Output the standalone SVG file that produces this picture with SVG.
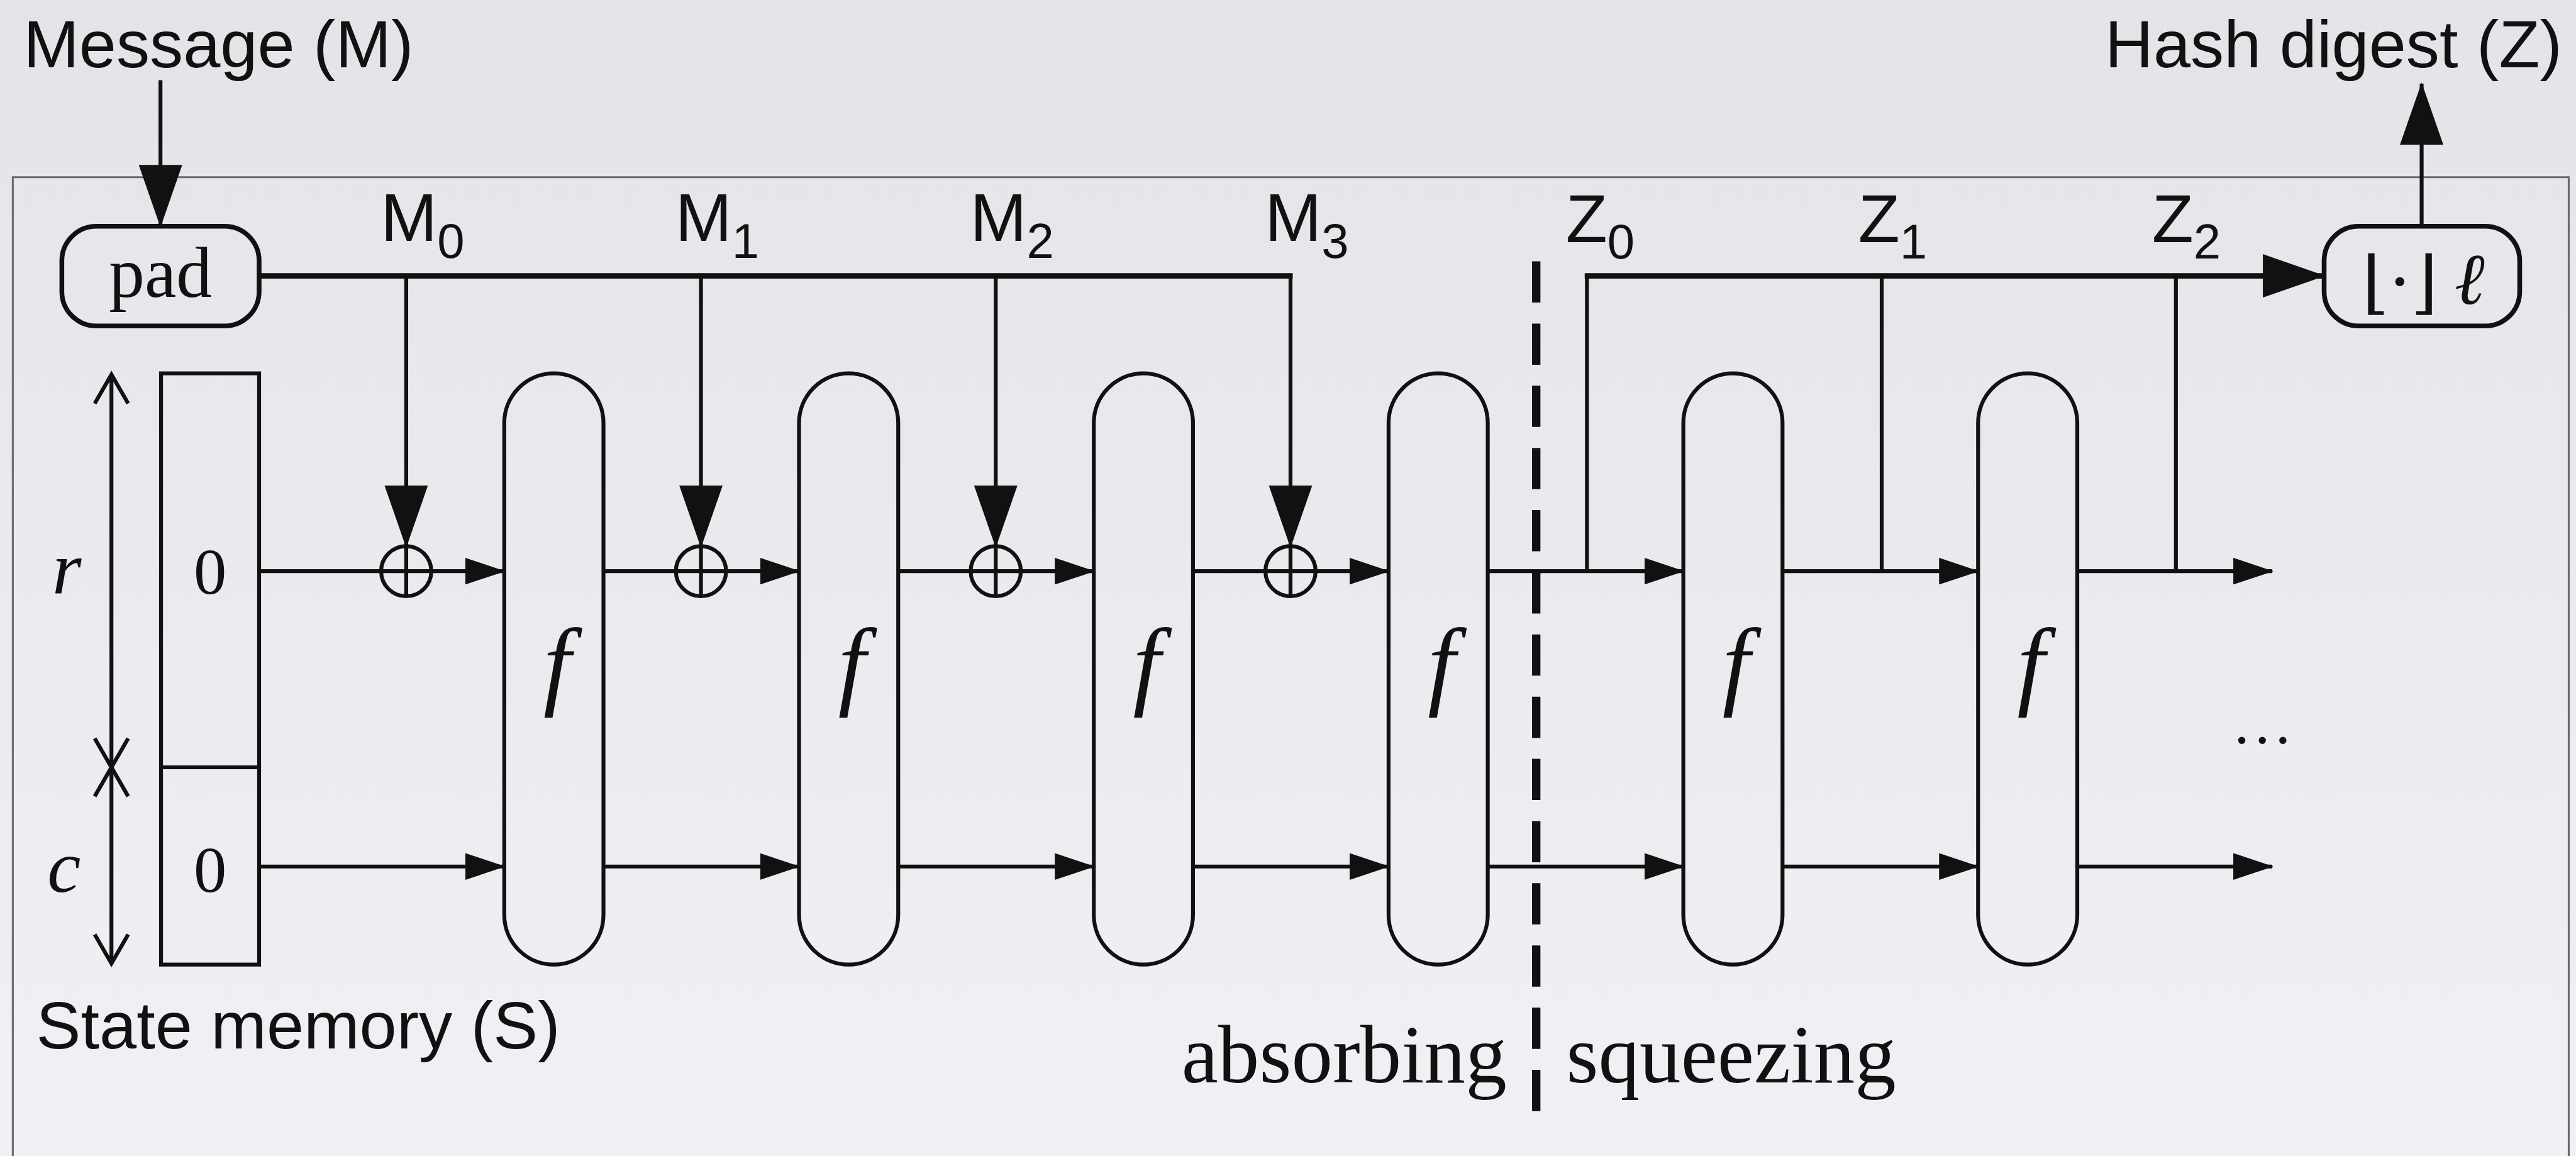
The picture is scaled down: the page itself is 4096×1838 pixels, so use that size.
<svg xmlns="http://www.w3.org/2000/svg" width="4096" height="1838" viewBox="0 0 4096 1838">
<defs>
<linearGradient id="bg" x1="0" y1="0" x2="0" y2="1">
<stop offset="0" stop-color="#e2e4e7"/>
<stop offset="1" stop-color="#eff1f4"/>
</linearGradient>
<marker id="big" markerUnits="userSpaceOnUse" markerWidth="112" markerHeight="78" viewBox="0 0 112 78" refX="110" refY="39" orient="auto">
<path d="M0,0 L112,39 L0,78 Z" fill="#111"/>
</marker>
<marker id="small" markerUnits="userSpaceOnUse" markerWidth="72" markerHeight="48" viewBox="0 0 72 48" refX="70" refY="24" orient="auto">
<path d="M0,0 L72,24 L0,48 Z" fill="#111"/>
</marker>
<style>
.ln{fill:none;stroke:#111;stroke-width:7}
.bus{fill:none;stroke:#111;stroke-width:10}
.box{fill:none;stroke:#111;stroke-width:8.5}
.cap{fill:none;stroke:#111;stroke-width:7}
.sans{font-family:"Liberation Sans",Arial,sans-serif;fill:#111}
.serif{font-family:"Liberation Serif","Times New Roman",serif;fill:#111}
.lbl{font-size:122px}
.sub{font-size:88px}
.fx{font-family:"Liberation Serif","Times New Roman",serif;font-style:italic;font-size:178px;fill:#111;text-anchor:middle}
</style>
</defs>
<rect x="0" y="0" width="4096" height="1838" fill="url(#bg)"/>
<g transform="scale(0.886)">
<path id="frame" d="M23,2090 V318 H4610 V2090" fill="none" stroke="#6b6b6b" stroke-width="3.5"/>

<g id="connectors">
<path class="ln" d="M288,144 V406" marker-end="url(#big)"/>
<path class="bus" d="M465,495 H2320"/>
<path class="ln" d="M729,495 V981" marker-end="url(#big)"/>
<path class="ln" d="M1258,495 V981" marker-end="url(#big)"/>
<path class="ln" d="M1787,495 V981" marker-end="url(#big)"/>
<path class="ln" d="M2316,495 V981" marker-end="url(#big)"/>
<path class="ln" d="M2848,1025 V495"/>
<path class="bus" d="M2844,495 H4171" marker-end="url(#big)"/>
<path class="ln" d="M3377,495 V1025"/>
<path class="ln" d="M3905,495 V1025"/>
<path class="ln" d="M4346,406 V150" marker-end="url(#big)"/>
<path class="ln" d="M465,1025 H905" marker-end="url(#small)"/>
<path class="ln" d="M1083,1025 H1434" marker-end="url(#small)"/>
<path class="ln" d="M1612,1025 H1963" marker-end="url(#small)"/>
<path class="ln" d="M2141,1025 H2492" marker-end="url(#small)"/>
<path class="ln" d="M2670,1025 H3021" marker-end="url(#small)"/>
<path class="ln" d="M3199,1025 H3550" marker-end="url(#small)"/>
<path class="ln" d="M3728,1025 H4078" marker-end="url(#small)"/>
<path class="ln" d="M465,1555 H905" marker-end="url(#small)"/>
<path class="ln" d="M1083,1555 H1434" marker-end="url(#small)"/>
<path class="ln" d="M1612,1555 H1963" marker-end="url(#small)"/>
<path class="ln" d="M2141,1555 H2492" marker-end="url(#small)"/>
<path class="ln" d="M2670,1555 H3021" marker-end="url(#small)"/>
<path class="ln" d="M3199,1555 H3550" marker-end="url(#small)"/>
<path class="ln" d="M3728,1555 H4078" marker-end="url(#small)"/>
<path class="ln" d="M200,674 V1727"/>
<path class="ln" d="M170,724 L200,672 L230,724 M170,1325 L200,1377 L230,1325 M170,1429 L200,1377 L230,1429 M170,1677 L200,1729 L230,1677"/>
<path d="M2757,469 V2001" fill="none" stroke="#111" stroke-width="15" stroke-dasharray="74 37.6"/>
</g>

<g id="node-pad">
<rect class="box" x="111" y="406" width="354" height="179" rx="62"/>
<text class="serif" x="288" y="533" font-size="128" text-anchor="middle">pad</text>
</g>

<g id="node-state">
<rect class="cap" x="289" y="670" width="176" height="1061"/>
<path class="cap" d="M289,1377 H465"/>
<text class="serif" x="377" y="1065" font-size="118" text-anchor="middle">0</text>
<text class="serif" x="377" y="1600" font-size="118" text-anchor="middle">0</text>
<text class="serif" x="120" y="1065" font-size="135" font-style="italic" text-anchor="middle">r</text>
<text class="serif" x="115" y="1600" font-size="135" font-style="italic" text-anchor="middle">c</text>
<text class="sans" x="65" y="1881" font-size="120">State memory (S)</text>
</g>

<g id="node-f1"><rect class="cap" x="905" y="670" width="178" height="1061" rx="89"/><text class="fx" x="1000" y="1251">f</text></g>
<g id="node-f2"><rect class="cap" x="1434" y="670" width="178" height="1061" rx="89"/><text class="fx" x="1529" y="1251">f</text></g>
<g id="node-f3"><rect class="cap" x="1963" y="670" width="178" height="1061" rx="89"/><text class="fx" x="2058" y="1251">f</text></g>
<g id="node-f4"><rect class="cap" x="2492" y="670" width="178" height="1061" rx="89"/><text class="fx" x="2587" y="1251">f</text></g>
<g id="node-f5"><rect class="cap" x="3021" y="670" width="178" height="1061" rx="89"/><text class="fx" x="3116" y="1251">f</text></g>
<g id="node-f6"><rect class="cap" x="3550" y="670" width="178" height="1061" rx="89"/><text class="fx" x="3645" y="1251">f</text></g>

<g id="node-xor0"><circle class="ln" cx="729" cy="1025" r="45"/><path class="ln" d="M729,980 V1070"/></g>
<g id="node-xor1"><circle class="ln" cx="1258" cy="1025" r="45"/><path class="ln" d="M1258,980 V1070"/></g>
<g id="node-xor2"><circle class="ln" cx="1787" cy="1025" r="45"/><path class="ln" d="M1787,980 V1070"/></g>
<g id="node-xor3"><circle class="ln" cx="2316" cy="1025" r="45"/><path class="ln" d="M2316,980 V1070"/></g>

<g id="node-output">
<rect class="box" x="4171" y="406" width="351" height="179" rx="62"/>
<text class="serif" font-size="130"><tspan x="4307" y="548" text-anchor="middle" font-family="'DejaVu Serif','Liberation Serif',serif" font-size="124">⌊·⌋</tspan><tspan x="4432" y="545" text-anchor="middle" font-style="italic">ℓ</tspan></text>
</g>

<g id="labels">
<text class="sans" x="42" y="121" font-size="120">Message (M)</text>
<text class="sans" x="4598" y="121" font-size="120" text-anchor="end">Hash digest (Z)</text>
<text class="sans lbl" x="683" y="432">M<tspan class="sub" dy="31">0</tspan></text>
<text class="sans lbl" x="1212" y="432">M<tspan class="sub" dy="31">1</tspan></text>
<text class="sans lbl" x="1741" y="432">M<tspan class="sub" dy="31">2</tspan></text>
<text class="sans lbl" x="2270" y="432">M<tspan class="sub" dy="31">3</tspan></text>
<text class="sans lbl" x="2810" y="434">Z<tspan class="sub" dy="30">0</tspan></text>
<text class="sans lbl" x="3335" y="434">Z<tspan class="sub" dy="30">1</tspan></text>
<text class="sans lbl" x="3862" y="434">Z<tspan class="sub" dy="30">2</tspan></text>
<text class="serif" x="2704" y="1942" font-size="148" text-anchor="end">absorbing</text>
<text class="serif" x="2811" y="1942" font-size="148">squeezing</text>
<text class="serif" x="4060" y="1334" font-size="110" text-anchor="middle">…</text>
</g>
</g>
</svg>
